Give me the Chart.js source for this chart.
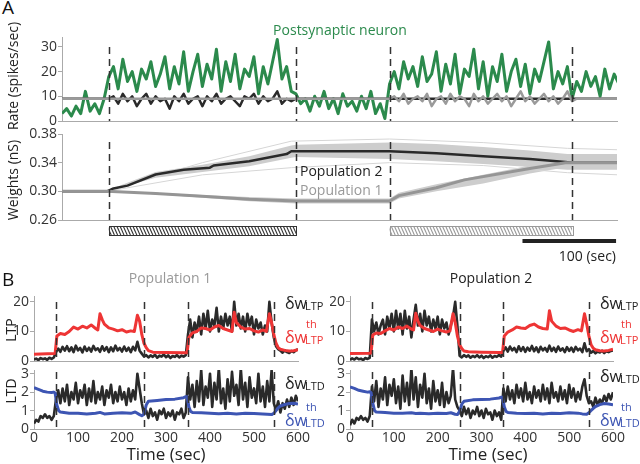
<!DOCTYPE html>
<html>
<head>
<meta charset="utf-8">
<script src="https://cdn.jsdelivr.net/npm/chart.js@4.4.1/dist/chart.umd.min.js"></script>
<style>
  body { margin: 0; width: 640px; height: 464px; position: relative; background: #fff; overflow: hidden; font-family: "Open Sans", sans-serif; color: #222; }
  canvas { position: absolute; }
  .t { position: absolute; white-space: nowrap; line-height: 1; }
</style>
</head>
<body>
<script>
// ---- data ----
// 5 s sample grid used by the noisy traces
const tGrid = Array.from({ length: 121 }, (_, i) => i * 5);

const stimEdges = [50, 250, 350, 545];
const stimBlocks = [[50, 250], [350, 545]];
const scaleBarSec = [492, 592];

const rateTicks = [0, 10, 20, 30];
const weightTicks = [0.26, 0.30, 0.34, 0.38];
const ltpTicks = [0, 10, 20];
const ltdTicks = [0, 1, 2, 3];
const timeTicks = [0, 100, 200, 300, 400, 500, 600];

// panel A, rates (spikes/sec)
const ratePost = [3,5,2,6,3,12,4,7,3,9,
  18,22,13,25,16,20,12,21,17,24,14,19,26,13,22,15,28,12,20,27,14,23,17,29,12,24,16,27,13,21,18,26,11,22,15,24,33,17,22,12,
  11,7,9,4,10,6,12,5,9,3,11,6,8,4,10,5,12,3,7,1,
  15,20,13,24,17,22,14,26,16,19,28,12,23,15,27,11,21,18,29,13,24,10,22,16,27,12,20,25,14,23,11,21,16,24,32,13,20,15,22,9,
  16,12,20,14,18,10,21,13,19,15,17];
const ratePop2 = [9,9,9,9,9,9,9,9,9,9,
  9,10,7,11,8,10,6,9,11,7,10,8,9,5,10,8,11,7,9,10,6,10,8,11,7,9,10,8,6,10,9,11,7,10,8,9,12,7,9,8,
  9,9,9,9,9,9,9,9,9,9,9,9,9,9,9,9,9,9,9,9,
  9,9,9,9,9,9,9,9,9,9,9,9,9,9,9,9,9,9,9,9,9,9,9,9,9,9,9,9,9,9,9,9,9,9,9,9,9,9,9,9,
  9,9,9,9,9,9,9,9,9,9,9];
const ratePop1 = [9,9,9,9,9,9,9,9,9,9,
  9,9,9,9,9,9,9,9,9,9,9,9,9,9,9,9,9,9,9,9,9,9,9,9,9,9,9,9,9,9,9,9,9,9,9,9,9,9,9,9,
  9,9,9,9,9,9,9,9,9,9,9,9,9,9,9,9,9,9,9,9,
  9,10,8,11,7,9,10,8,11,6,9,10,7,11,8,10,9,6,11,8,10,7,9,11,8,10,6,9,12,8,10,7,9,11,8,10,7,9,12,8,
  9,9,9,9,9,9,9,9,9,9,9];

// panel A, weights (nS)
const pop2T = [0,48,55,70,100,130,158,162,200,240,245,350,400,450,500,538,545,595];
const pop2W = [0.300,0.300,0.304,0.308,0.3235,0.330,0.333,0.336,0.342,0.352,0.356,0.356,0.353,0.349,0.345,0.341,0.340,0.340];
const pop1T = [0,48,100,150,200,250,350,360,400,430,500,538,595];
const pop1W = [0.300,0.300,0.297,0.293,0.289,0.2865,0.2865,0.294,0.305,0.316,0.332,0.340,0.340];
const band2T = [48,100,150,200,245,250,350,400,450,500,540,595];
const band2Hi = [0.301,0.327,0.337,0.349,0.364,0.365,0.368,0.366,0.362,0.357,0.352,0.352];
const band2Lo = [0.300,0.319,0.327,0.335,0.347,0.348,0.345,0.342,0.338,0.334,0.330,0.330];
const out2T = [48,150,245,350,450,540,595];
const out2Hi = [0.301,0.340,0.370,0.373,0.368,0.360,0.358];
const out2Lo = [0.300,0.323,0.333,0.340,0.336,0.326,0.323];
const band1T = [48,100,150,200,250,350,360,400,450,500,540,595];
const band1Hi = [0.300,0.298,0.295,0.292,0.290,0.290,0.298,0.310,0.323,0.336,0.347,0.347];
const band1Lo = [0.300,0.296,0.291,0.286,0.283,0.283,0.290,0.300,0.311,0.325,0.334,0.334];

// panel B, LTP
const ltpW1 = [0.5,0.8,0.3,1.0,0.6,0.9,0.4,1.1,0.7,1.2,
  3.0,4.2,3.1,4.8,3.5,5.0,3.3,4.6,3.0,5.2,3.6,4.4,2.9,4.9,3.4,4.5,3.2,5.1,3.7,4.3,3.1,5.0,3.5,4.7,3.0,4.6,3.3,5.2,3.6,4.4,3.2,4.9,3.4,4.5,3.0,4.8,3.6,6.5,3.5,2.5,
  1.5,2.0,1.2,1.9,1.4,2.1,1.1,1.8,1.5,2.2,1.3,1.9,1.0,1.7,1.4,2.0,1.2,1.8,1.5,2.0,
  9,14,8,13,10,15,9,16,11,17,10,14,12,18,10,15,11,16,12,15,10,20,12,16,11,15,10,16,12,15,9,14,11,13,9,12,10,20,13,8,
  5,4,3.5,2.8,3.6,3.0,2.7,3.4,3.0,3.6,4.0];
const ltpW2 = [0.4,0.9,0.5,1.1,0.6,0.8,0.3,1.0,0.7,1.1,
  14,10,13,9,12,14,9,15,11,16,10,17,11,16,9,17,11,15,8,14,19,12,16,10,17,12,15,10,14,11,15,9,14,11,13,9,12,15,20,12,
  1.8,1.2,2.0,1.4,1.9,1.1,1.7,1.3,2.0,1.2,1.8,1.0,1.6,1.3,1.9,1.1,1.7,1.4,2.0,1.5,
  3.5,4.6,3.2,4.9,3.6,4.4,3.0,5.0,3.4,4.7,3.1,4.5,3.5,5.1,3.3,4.6,3.0,4.8,3.6,4.4,3.2,5.2,3.4,4.5,3.1,4.9,3.5,4.3,3.0,4.7,3.4,4.5,3.1,4.8,3.6,4.2,3.0,6.0,3.3,4.0,
  2.8,3.4,2.6,3.2,2.9,3.5,2.7,3.3,3.0,3.4,3.6];
const thLtpT = [0,45,48,52,60,70,80,90,100,110,120,130,140,145,150,155,160,170,180,190,200,210,220,228,235,240,245,250,255,260,
  270,300,340,348,352,360,370,380,390,400,410,420,430,440,450,455,460,470,480,490,500,510,520,528,535,540,545,550,555,560,570,580,590,600];
const thLtp1 = [2.3,2.5,2.6,8.5,9.3,9.0,10.0,11.5,10.8,11.8,11.2,12.2,11.0,10.5,16.0,14.0,12.5,11.2,10.8,10.2,10.6,9.8,10.2,10.0,15.5,13.5,9.0,6.0,4.5,3.5,
  3.0,2.9,2.8,2.8,8.0,9.5,10.0,11.2,11.0,10.5,11.5,12.0,11.0,10.5,10.0,16.5,13.0,11.5,10.8,11.0,10.2,9.8,10.5,10.0,16.0,13.0,9.0,6.0,4.5,4.0,3.6,3.4,3.5,3.8];
const thLtp2 = [2.5,2.6,2.7,8.8,9.5,9.3,10.2,11.0,10.5,11.5,11.0,11.8,10.8,10.5,16.2,13.5,12.0,11.0,10.5,10.0,10.8,10.2,9.8,10.2,16.0,13.0,8.5,5.5,4.2,3.4,
  3.1,3.0,2.9,2.9,8.5,9.8,10.5,11.5,11.2,11.0,12.0,12.5,11.5,11.0,10.8,17.0,13.5,11.8,11.0,11.2,10.5,10.0,10.6,10.2,16.0,12.5,8.5,5.5,4.3,3.8,3.5,3.4,3.6,4.0];

// panel B, LTD
const ltdW1 = [0.3,0.5,0.4,0.7,0.6,0.8,0.6,0.7,0.5,0.7,
  1.6,2.1,1.4,2.2,1.5,2.4,1.3,2.0,1.6,2.5,1.4,2.1,1.7,2.4,1.3,2.2,1.5,2.6,1.4,2.0,1.6,2.3,1.3,2.1,1.7,2.4,1.4,2.0,1.5,2.3,1.6,2.0,1.3,2.2,1.5,2.1,1.6,3.0,2.2,1.4,
  0.8,1.0,0.6,1.1,0.7,0.9,0.5,1.0,0.8,1.1,0.6,0.9,0.7,1.0,0.5,0.9,0.8,1.1,0.6,0.9,
  2.8,1.6,2.4,1.2,2.6,1.5,3.2,1.3,2.3,1.7,3.0,1.2,2.5,1.6,3.3,1.4,2.2,1.1,2.7,1.5,3.1,1.8,2.4,1.3,3.3,1.6,2.5,1.2,2.8,1.7,2.2,1.4,3.0,1.5,2.3,1.2,2.6,1.5,3.2,1.4,
  1.0,1.5,0.9,1.4,1.1,1.6,1.2,1.7,1.3,1.8,1.5];
const ltdW2 = [0.2,0.5,0.3,0.6,0.5,0.7,0.5,0.6,0.4,0.7,
  2.3,1.5,2.6,1.2,2.2,1.6,2.8,1.3,2.4,1.8,2.7,1.4,2.3,1.1,2.9,1.5,2.5,1.3,3.3,1.6,2.8,1.2,2.4,1.7,3.0,1.4,2.2,1.1,2.6,1.5,2.1,1.3,2.5,1.2,2.0,1.4,1.8,3.3,1.6,1.2,
  1.0,0.7,1.2,0.8,1.1,0.6,1.0,0.8,1.2,0.7,1.0,0.6,1.1,0.8,0.9,0.5,1.0,0.7,0.9,0.5,
  2.2,1.5,2.3,1.6,2.1,1.4,2.4,1.7,2.2,1.5,2.5,1.6,2.0,1.4,2.3,1.7,2.1,1.5,2.4,1.6,2.2,1.4,2.5,1.7,2.0,1.5,2.3,1.6,2.1,1.4,2.4,1.7,2.2,1.5,2.0,1.6,2.3,2.7,1.8,1.4,
  1.5,1.2,1.7,1.3,1.6,1.4,1.8,1.5,1.9,1.6,2.0];
const thLtdT = [0,10,20,30,40,45,48,52,56,60,80,100,120,140,150,160,180,200,220,230,240,245,250,255,260,280,
  300,320,340,345,348,352,356,360,380,400,420,440,460,480,500,520,530,540,545,550,555,560,570,580,590,600];
const thLtd1 = [2.25,2.15,2.05,2.0,1.98,2.0,1.95,1.3,1.0,0.92,0.85,0.86,0.82,0.85,0.90,0.82,0.86,0.88,0.85,0.92,0.78,0.72,0.80,1.3,1.5,1.55,
  1.6,1.62,1.7,1.75,1.75,1.2,0.95,0.90,0.88,0.85,0.83,0.85,0.82,0.86,0.84,0.82,0.80,0.78,0.85,1.0,1.15,1.25,1.33,1.38,1.40,1.35];
const thLtd2 = [2.28,2.2,2.1,2.05,2.0,2.02,1.98,1.4,1.0,0.92,0.90,0.86,0.85,0.88,0.84,0.86,0.83,0.86,0.84,0.88,0.80,0.78,0.95,1.35,1.5,1.58,
  1.6,1.62,1.68,1.72,1.72,1.2,0.95,0.90,0.86,0.84,0.86,0.82,0.85,0.84,0.88,0.86,0.82,0.80,0.88,1.0,1.12,1.22,1.32,1.38,1.36,1.32];

// ---- colours ----
const GREEN = '#2b8a4c', RED = '#ee3535', BLUE = '#3d55b3', DARK = '#2a2a2a', GREY = '#9a9a9a', BAND = '#cdcdcd';

Chart.defaults.font.family = '"Open Sans", sans-serif';
Chart.defaults.font.size = 14;
Chart.defaults.color = '#333';

const PAD = 14;

function line(times, vals, color, width, extra) {
  return Object.assign({
    data: times.map((t, i) => ({ x: t, y: vals[i] })),
    borderColor: color, borderWidth: width, fill: false
  }, extra || {});
}

function dashes(times, off) {
  return {
    id: 'dashes',
    afterDatasetsDraw(chart) {
      const { ctx, chartArea: a, scales: { x } } = chart;
      ctx.save();
      ctx.strokeStyle = '#333';
      ctx.lineWidth = 1.5;
      ctx.setLineDash([7, 5]);
      times.forEach(t => {
        const px = Math.round(x.getPixelForValue(t)) + 0.5;
        ctx.beginPath();
        ctx.moveTo(px, a.top + off);
        ctx.lineTo(px, a.bottom);
        ctx.stroke();
      });
      ctx.restore();
    }
  };
}

function addChart(area, yw, xh, xMax, yMin, yMax, yTicks, yFmt, xTicks, datasets, plugins) {
  const cv = document.createElement('canvas');
  const w = area.r - area.l + yw + PAD, h = area.b - area.t + 2 * PAD + xh;
  cv.width = w; cv.height = h;
  cv.style.left = (area.l - yw) + 'px';
  cv.style.top = (area.t - PAD) + 'px';
  document.body.appendChild(cv);
  return new Chart(cv, {
    type: 'line',
    data: { datasets: datasets },
    options: {
      responsive: false,
      animation: false,
      events: [],
      layout: { padding: { top: PAD, right: PAD, bottom: PAD, left: 0 } },
      plugins: { legend: { display: false }, tooltip: { enabled: false } },
      elements: { point: { radius: 0 }, line: { tension: 0, borderJoinStyle: 'round' } },
      scales: {
        x: {
          type: 'linear', min: 0, max: xMax,
          afterFit: s => { s.height = xh; },
          grid: { display: false, drawTicks: false },
          border: { color: '#aaa' },
          afterBuildTicks: s => { if (xTicks) s.ticks = xTicks.map(v => ({ value: v })); },
          ticks: xTicks ? { display: true, padding: 1, maxRotation: 0, autoSkip: false } : { display: false }
        },
        y: {
          min: yMin, max: yMax,
          afterFit: s => { s.width = yw; },
          grid: { display: true, drawOnChartArea: false, drawTicks: true, tickLength: 4, color: '#aaa' },
          border: { color: '#aaa' },
          afterBuildTicks: s => { s.ticks = yTicks.map(v => ({ value: v })); },
          ticks: { padding: 1, autoSkip: false, callback: yFmt }
        }
      }
    },
    plugins: plugins
  });
}

const plain = v => String(v);

// ---- panel A: rates ----
addChart({ l: 62, r: 617, t: 37, b: 121 }, 42, 2, 593, 0, 34, rateTicks, plain, null, [
  line(tGrid, ratePop1, GREY, 2.5),
  line(tGrid, ratePop2, DARK, 2.5),
  line(tGrid, ratePost, GREEN, 3)
], [dashes(stimEdges, 10)]);

// ---- panel A: weights, stimulus bars and time scale ----
const hatch = {
  id: 'hatch',
  afterDraw(chart) {
    const { ctx, chartArea: a, scales: { x } } = chart;
    const top = a.bottom + 6, bot = a.bottom + 15;
    ['#333', '#999'].forEach((col, k) => {
      const x0 = x.getPixelForValue(stimBlocks[k][0]), x1 = x.getPixelForValue(stimBlocks[k][1]);
      ctx.save();
      ctx.beginPath();
      ctx.rect(x0, top, x1 - x0, bot - top);
      ctx.clip();
      ctx.strokeStyle = col;
      ctx.lineWidth = 1.1;
      for (let px = x0 - 8; px < x1 + 2; px += 3.2) {
        ctx.beginPath();
        ctx.moveTo(px, top);
        ctx.lineTo(px + 4, bot);
        ctx.stroke();
      }
      ctx.restore();
      ctx.save();
      ctx.strokeStyle = col;
      ctx.lineWidth = 1;
      ctx.strokeRect(Math.round(x0) + 0.5, top + 0.5, Math.round(x1 - x0), bot - top);
      ctx.restore();
    });
    const s0 = x.getPixelForValue(scaleBarSec[0]), s1 = x.getPixelForValue(scaleBarSec[1]);
    ctx.save();
    ctx.fillStyle = '#222';
    ctx.fillRect(s0, a.bottom + 19, s1 - s0, 4);
    ctx.restore();
  }
};

addChart({ l: 62, r: 617, t: 134, b: 220 }, 42, 46, 593, 0.26, 0.38, weightTicks, v => v.toFixed(2), null, [
  line(pop1T, pop1W, '#959595', 3),
  line(pop2T, pop2W, DARK, 2.5),
  line(out2T, out2Hi, '#d6d6d6', 1),
  line(out2T, out2Lo, '#d6d6d6', 1),
  line(band1T, band1Hi, BAND, 0, { fill: '+1', backgroundColor: BAND }),
  line(band1T, band1Lo, BAND, 0),
  line(band2T, band2Hi, BAND, 0, { fill: '+1', backgroundColor: BAND }),
  line(band2T, band2Lo, BAND, 0)
], [dashes(stimEdges, 8), hatch]);

// ---- panel B ----
addChart({ l: 34, r: 298, t: 296, b: 361 }, 20, 2, 600, 0, 22, ltpTicks, plain, null, [
  line(thLtpT, thLtp1, RED, 3),
  line(tGrid, ltpW1, DARK, 2.6)
], [dashes(stimEdges, 6)]);
addChart({ l: 34, r: 298, t: 370, b: 429 }, 20, 22, 600, 0, 3.2, ltdTicks, plain, timeTicks, [
  line(thLtdT, thLtd1, BLUE, 3),
  line(tGrid, ltdW1, DARK, 2.6)
], [dashes(stimEdges, 2)]);
addChart({ l: 350, r: 613, t: 296, b: 361 }, 20, 2, 600, 0, 22, ltpTicks, plain, null, [
  line(thLtpT, thLtp2, RED, 3),
  line(tGrid, ltpW2, DARK, 2.6)
], [dashes(stimEdges, 6)]);
addChart({ l: 350, r: 613, t: 370, b: 429 }, 20, 22, 600, 0, 3.2, ltdTicks, plain, timeTicks, [
  line(thLtdT, thLtd2, BLUE, 3),
  line(tGrid, ltdW2, DARK, 2.6)
], [dashes(stimEdges, 2)]);

// ---- text ----
function text(str, x, base, size, color, align) {
  const d = document.createElement('div');
  d.className = 't';
  d.textContent = str;
  d.style.fontSize = size + 'px';
  d.style.color = color || '#222';
  d.style.top = (base - 0.888 * size) + 'px';
  if (align === 'center') { d.style.left = x + 'px'; d.style.transform = 'translateX(-50%)'; }
  else if (align === 'right') { d.style.right = (640 - x) + 'px'; }
  else d.style.left = x + 'px';
  document.body.appendChild(d);
}
function vtext(str, cx, cy, size) {
  const d = document.createElement('div');
  d.className = 't';
  d.textContent = str;
  d.style.fontSize = size + 'px';
  d.style.left = cx + 'px';
  d.style.top = cy + 'px';
  d.style.transform = 'translate(-50%,-50%) rotate(-90deg)';
  document.body.appendChild(d);
}
function dw(x, base, color, sub, sup) {
  text('\u03b4w', x, base, 16, color);
  text(sub, x + 20, base + 1, 11, color);
  if (sup) text(sup, x + 21, base - 15, 11, color);
}

text('A', 2, 15, 19, '#111');
text('B', 2, 287, 19, '#111');
text('Postsynaptic neuron', 340, 35, 14, GREEN, 'center');
text('Population 2', 300, 176, 14, '#222');
text('Population 1', 300, 195, 14, '#999');
text('100 (sec)', 616, 261, 14, '#222', 'right');
vtext('Rate (spikes/sec)', 13, 76, 14);
vtext('Weights (nS)', 13, 180, 14);
text('Population 1', 170, 283, 14, '#999', 'center');
text('Population 2', 491, 283, 14, '#222', 'center');
vtext('LTP', 11, 330, 14);
vtext('LTD', 11, 391, 14);
text('Time (sec)', 166, 460, 17, '#222', 'center');
text('Time (sec)', 488, 460, 17, '#222', 'center');

dw(285, 309, '#222', 'LTP');
dw(285, 343, RED, 'LTP', 'th');
dw(285, 389, '#222', 'LTD');
dw(285, 426, BLUE, 'LTD', 'th');
dw(600, 309, '#222', 'LTP');
dw(600, 343, RED, 'LTP', 'th');
dw(600, 382, '#222', 'LTD');
dw(600, 426, BLUE, 'LTD', 'th');
</script>
</body>
</html>
